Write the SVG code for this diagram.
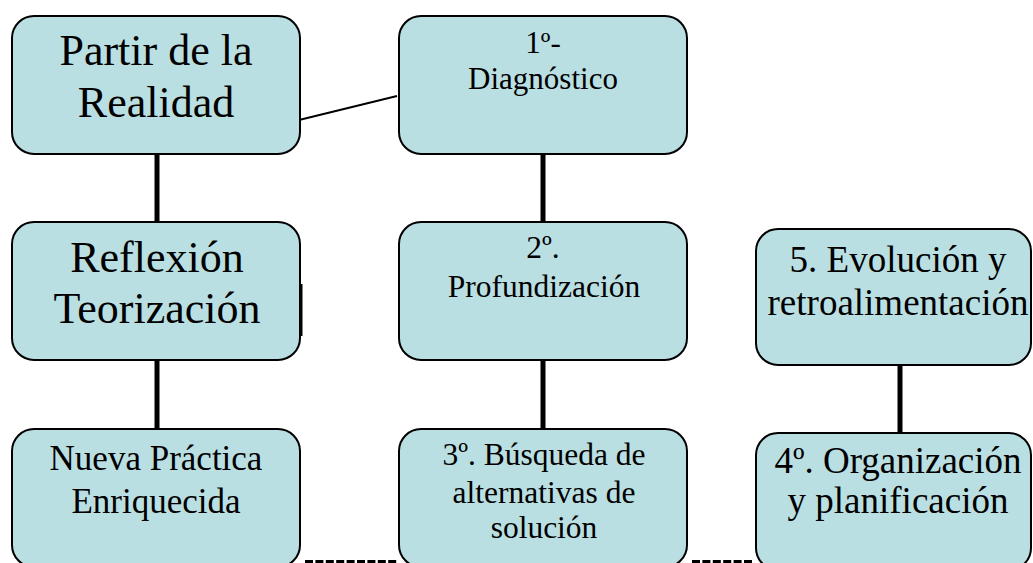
<svg xmlns="http://www.w3.org/2000/svg" width="1033" height="563" viewBox="0 0 1033 563">
<style>
.box{fill:#BADFE2;stroke:#000;stroke-width:2}
.t{font-family:'Liberation Serif','Times New Roman',serif;fill:#000;text-anchor:middle}
.conn{stroke:#000;stroke-width:5;fill:none}
.thin{stroke:#000;stroke-width:2;fill:none}
.dash{stroke:#000;stroke-width:3;fill:none;stroke-dasharray:8 2.4}
</style>
<rect width="1033" height="563" fill="#fff"/>
<g id="connectors">
<line class="conn" x1="157" y1="154" x2="157" y2="222"/>
<line class="conn" x1="157" y1="360" x2="157" y2="429"/>
<line class="conn" x1="543" y1="154" x2="543" y2="222"/>
<line class="conn" x1="543" y1="360" x2="543" y2="429"/>
<line class="conn" x1="900" y1="365" x2="900" y2="433"/>
<line class="thin" x1="299" y1="120" x2="397" y2="96"/>
<line class="dash" x1="305" y1="561.5" x2="398" y2="561.5"/>
<line class="dash" x1="692" y1="561.5" x2="753" y2="561.5"/>
</g>
<g id="partir">
<rect class="box" x="12" y="16" width="288" height="138" rx="22"/>
<text class="t" font-size="44"><tspan x="156" y="65">Partir de la</tspan><tspan x="156" y="117">Realidad</tspan></text>
</g>
<g id="reflexion">
<rect class="box" x="12" y="222" width="288" height="138" rx="22"/>
<text class="t" font-size="44"><tspan x="157" y="272">Reflexión</tspan><tspan x="157" y="323">Teorización</tspan></text>
<line x1="301" y1="284" x2="301" y2="336" stroke="#000" stroke-width="3"/>
</g>
<g id="nueva">
<rect class="box" x="12" y="429" width="288" height="138" rx="22"/>
<text class="t" font-size="35"><tspan x="156" y="470">Nueva Práctica</tspan><tspan x="156" y="513">Enriquecida</tspan></text>
</g>
<g id="diagnostico">
<rect class="box" x="399" y="16" width="288" height="138" rx="22"/>
<text class="t" font-size="31"><tspan x="543" y="53">1º-</tspan><tspan x="543" y="89">Diagnóstico</tspan></text>
</g>
<g id="profundizacion">
<rect class="box" x="399" y="222" width="288" height="138" rx="22"/>
<text class="t" font-size="31.5"><tspan x="543" y="258">2º.</tspan><tspan x="544" y="297">Profundización</tspan></text>
</g>
<g id="busqueda">
<rect class="box" x="399" y="429" width="288" height="138" rx="22"/>
<text class="t" font-size="31.5"><tspan x="544" y="465">3º. Búsqueda de</tspan><tspan x="544" y="503">alternativas de</tspan><tspan x="544" y="538">solución</tspan></text>
</g>
<g id="evolucion">
<rect class="box" x="756" y="229" width="275" height="136" rx="22"/>
<text class="t" font-size="37"><tspan x="898" y="272">5. Evolución y</tspan><tspan x="898" y="315">retroalimentación</tspan></text>
</g>
<g id="organizacion">
<rect class="box" x="756" y="433" width="275" height="137" rx="22"/>
<text class="t" font-size="37"><tspan x="898" y="473">4º. Organización</tspan><tspan x="898" y="513">y planificación</tspan></text>
</g>
</svg>
